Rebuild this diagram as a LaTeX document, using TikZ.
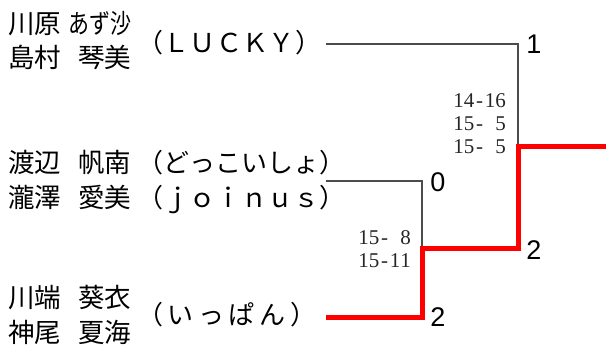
\documentclass[tikz,border=0pt]{standalone}
\usepackage{fontspec}
\setmainfont{Liberation Serif}
\newfontfamily\jp{Noto Sans CJK JP}
\newfontfamily\numf{Liberation Sans}
\newcommand\cell[1]{\makebox[0.5em]{#1}}
\begin{document}
\begin{tikzpicture}[x=1pt,y=-1pt,
  thinl/.style={draw=black!70, line width=1.2pt},
  win/.style={draw=red, line width=5pt, line join=miter},
  surn/.style={inner sep=0pt, anchor=base west, font=\jp\fontsize{26.5}{26.5}\selectfont},
  givn/.style={inner sep=0pt, anchor=base east, font=\jp\fontsize{26.5}{26.5}\selectfont},
  team/.style={inner sep=0pt, anchor=base west, font=\jp\fontsize{26}{26}\selectfont},
  score/.style={inner sep=0pt, anchor=base east, text=black!85, font=\fontsize{21}{21}\selectfont},
  num/.style={inner sep=0pt, anchor=center, font=\numf\fontsize{27}{27}\selectfont}]
\useasboundingbox (0,0) rectangle (606,347);
% names
\node[surn] (s1) at (8,33.2) {川原};
\node[givn] (g1) at (131.5,33.2) {\resizebox{63pt}{\height}{あず沙}};
\node[surn] (s2) at (8,67.7) {島村};
\node[givn] (g2) at (131.5,67.7) {琴美};
\node[team] (t1) at (137,53) {\hbox to 184pt{（\hfill Ｌ\hfill Ｕ\hfill Ｃ\hfill Ｋ\hfill Ｙ\hfill ）}};
\node[surn] (s3) at (8,172.2) {渡辺};
\node[givn] (g3) at (131.5,172.2) {帆南};
\node[team] (t2) at (137,172.2) {\hbox to 184pt{（\hfill ど\hfill っ\hfill こ\hfill い\hfill し\hfill ょ\hfill ）}};
\node[surn] (s4) at (8,207.7) {瀧澤};
\node[givn] (g4) at (131.5,207.7) {愛美};
\node[team] (t3) at (137,207.7) {\hbox to 184pt{（\hfill ｊ\hfill ｏ\hfill ｉ\hfill ｎ\hfill ｕ\hfill ｓ\hfill ）}};
\node[surn] (s5) at (8,307.7) {川端};
\node[givn] (g5) at (131.5,307.7) {葵衣};
\node[surn] (s6) at (8,342.2) {神尾};
\node[givn] (g6) at (131.5,342.2) {夏海};
\node[team] (t4) at (137,325) {\hbox to 179pt{（\hfill い\hfill っ\hfill ぱ\hfill ん\hfill ）}};
% bracket
\coordinate (a1) at (326,44);
\coordinate (a2) at (518,44);
\coordinate (m1) at (518,147);
\coordinate (w) at (606,147);
\coordinate (b1) at (326,181);
\coordinate (b2) at (422,181);
\coordinate (m2) at (422,248.5);
\coordinate (m2r) at (518,248.5);
\coordinate (c1) at (326,317.5);
\coordinate (c2) at (422,317.5);
\draw[thinl] (a1) -- (a2) -- (m1);
\draw[thinl] (b1) -- (b2) -- (m2);
\draw[win] (c1) -- (c2) -- (m2) -- (m2r) -- (m1) -- (w);
% scores
\node[score] (sc1) at (506,108) {\cell1\cell4\cell-\cell1\cell6};
\node[score] (sc2) at (506,131) {\cell1\cell5\cell-\cell{}\cell5};
\node[score] (sc3) at (506,153.5) {\cell1\cell5\cell-\cell{}\cell5};
\node[score] (sc4) at (411,245) {\cell1\cell5\cell-\cell{}\cell8};
\node[score] (sc5) at (411,268) {\cell1\cell5\cell-\cell1\cell1};
% results
\node[num] (n1) at (534,44) {1};
\node[num] (n0) at (438,182) {0};
\node[num] (n2a) at (534,250.5) {2};
\node[num] (n2b) at (438,317.5) {2};
\end{tikzpicture}
\end{document}
